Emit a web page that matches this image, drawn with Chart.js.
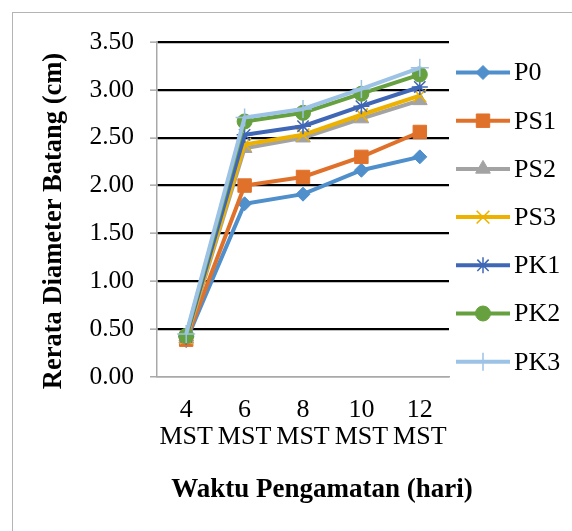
<!DOCTYPE html>
<html>
<head>
<meta charset="utf-8">
<script src="https://cdn.jsdelivr.net/npm/chart.js"></script>
<style>
  html, body { margin: 0; padding: 0; background: #fff; overflow: hidden; }
  #wrap { position: relative; width: 572px; height: 531px; overflow: hidden; }
  #frame { position: absolute; left: 12px; top: 12px; width: 700px; height: 700px;
           border: 1.5px solid #b4b4b4; box-sizing: border-box; }
  canvas { position: absolute; left: 0; top: 0; }
</style>
</head>
<body>
<div id="wrap">
  <div id="frame"></div>
  <canvas id="c" width="572" height="531"></canvas>
</div>
<script>
// Observation times (weeks after planting)
const categories = [['4', 'MST'], ['6', 'MST'], ['8', 'MST'], ['10', 'MST'], ['12', 'MST']];

// Mean stem diameter (cm) per treatment
const seriesNames = ['P0', 'PS1', 'PS2', 'PS3', 'PK1', 'PK2', 'PK3'];
const P0  = [0.38, 1.81, 1.91, 2.16, 2.30];
const PS1 = [0.39, 2.00, 2.09, 2.30, 2.56];
const PS2 = [0.40, 2.39, 2.50, 2.70, 2.89];
const PS3 = [0.41, 2.43, 2.53, 2.74, 2.94];
const PK1 = [0.42, 2.53, 2.62, 2.83, 3.03];
const PK2 = [0.43, 2.67, 2.76, 2.96, 3.16];
const PK3 = [0.45, 2.71, 2.80, 3.01, 3.23];
const seriesValues = [P0, PS1, PS2, PS3, PK1, PK2, PK3];

const yMin = 0, yMax = 3.5, yStep = 0.5;

const xTitleText = 'Waktu Pengamatan (hari)';
const yTitleText = 'Rerata Diameter Batang (cm)';

const SERIF = "'Liberation Serif', 'Times New Roman', serif";

// Line colour, marker shape, marker radius and marker stroke per series
const styles = [
  { color: '#4F8FCB', point: 'rectRot',  r: 7,   bw: 1 },
  { color: '#E0712B', point: 'rect',     r: 9.5, bw: 1 },
  { color: '#A3A3A3', point: 'triangle', r: 8.5, bw: 1 },
  { color: '#EDB100', point: 'crossRot', r: 9,   bw: 1.6 },
  { color: '#3F67B5', point: 'star',     r: 8,   bw: 1.5 },
  { color: '#66A03F', point: 'circle',   r: 7.5, bw: 1 },
  { color: '#9CC2E6', point: 'cross',    r: 9,   bw: 1.5 }
];

const datasets = seriesValues.map((vals, i) => ({
  label: seriesNames[i],
  data: vals,
  borderColor: styles[i].color,
  backgroundColor: styles[i].color,
  borderWidth: 4,
  pointStyle: styles[i].point,
  pointRadius: styles[i].r,
  pointHoverRadius: styles[i].r,
  pointBackgroundColor: styles[i].color,
  pointBorderColor: styles[i].color,
  pointBorderWidth: styles[i].bw,
  tension: 0,
  order: seriesValues.length - i
}));

// Legend on the right: a line sample with its marker, then the name
const sideLegend = {
  id: 'sideLegend',
  afterDraw(chart) {
    const ctx = chart.ctx;
    const x0 = 456, x1 = 510, top = 72.5, gap = 48.2;
    chart.data.datasets.forEach((ds, i) => {
      const y = top + i * gap;
      ctx.save();
      ctx.strokeStyle = ds.borderColor;
      ctx.lineWidth = ds.borderWidth;
      ctx.beginPath();
      ctx.moveTo(x0, y);
      ctx.lineTo(x1, y);
      ctx.stroke();
      ctx.fillStyle = ds.pointBackgroundColor;
      ctx.strokeStyle = ds.pointBorderColor;
      ctx.lineWidth = ds.pointBorderWidth;
      Chart.helpers.drawPoint(ctx, {
        pointStyle: ds.pointStyle, radius: ds.pointRadius,
        rotation: 0, borderWidth: ds.pointBorderWidth
      }, (x0 + x1) / 2, y);
      ctx.fillStyle = '#000';
      ctx.font = '26px ' + SERIF;
      ctx.textAlign = 'left';
      ctx.textBaseline = 'middle';
      ctx.fillText(ds.label, 514, y + 1);
      ctx.restore();
    });
  }
};

// Axis titles
const axisTitles = {
  id: 'axisTitles',
  afterDraw(chart) {
    const ctx = chart.ctx;
    ctx.save();
    ctx.fillStyle = '#000';
    ctx.textAlign = 'center';
    ctx.textBaseline = 'middle';
    ctx.font = 'bold 27px ' + SERIF;
    ctx.fillText(xTitleText, 322, 490);
    ctx.translate(54, 221);
    ctx.rotate(-Math.PI / 2);
    ctx.font = 'bold 26.5px ' + SERIF;
    ctx.fillText(yTitleText, 0, 0);
    ctx.restore();
  }
};

new Chart(document.getElementById('c'), {
  type: 'line',
  data: { labels: categories, datasets },
  options: {
    responsive: false,
    devicePixelRatio: 1,
    animation: false,
    layout: { padding: { left: 0, right: 123, top: 42, bottom: 25 } },
    plugins: { legend: { display: false }, tooltip: { enabled: false } },
    scales: {
      x: {
        offset: true,
        grid: { display: false, drawTicks: false },
        border: { display: true, color: '#a9a9a9', width: 1.5 },
        ticks: {
          color: '#000', padding: 20, maxRotation: 0, autoSkip: false,
          font: { family: SERIF, size: 26, lineHeight: 1.04 }
        },
        afterFit(scale) { scale.height = 531 - 25 - 377; }
      },
      y: {
        min: yMin, max: yMax,
        ticks: {
          stepSize: yStep, color: '#000', padding: 16,
          font: { family: SERIF, size: 25.5 },
          callback: v => Number(v).toFixed(2)
        },
        grid: {
          color: c => (c.tick && c.tick.value === 0) ? '#a9a9a9' : '#000',
          lineWidth: c => (c.tick && c.tick.value === 0) ? 1.5 : 2.3,
          tickColor: '#a9a9a9', tickLength: 7, tickWidth: 1.5
        },
        border: { display: true, color: '#a9a9a9', width: 1.5 },
        afterFit(scale) { scale.width = 157; }
      }
    }
  },
  plugins: [sideLegend, axisTitles]
});
</script>
</body>
</html>
